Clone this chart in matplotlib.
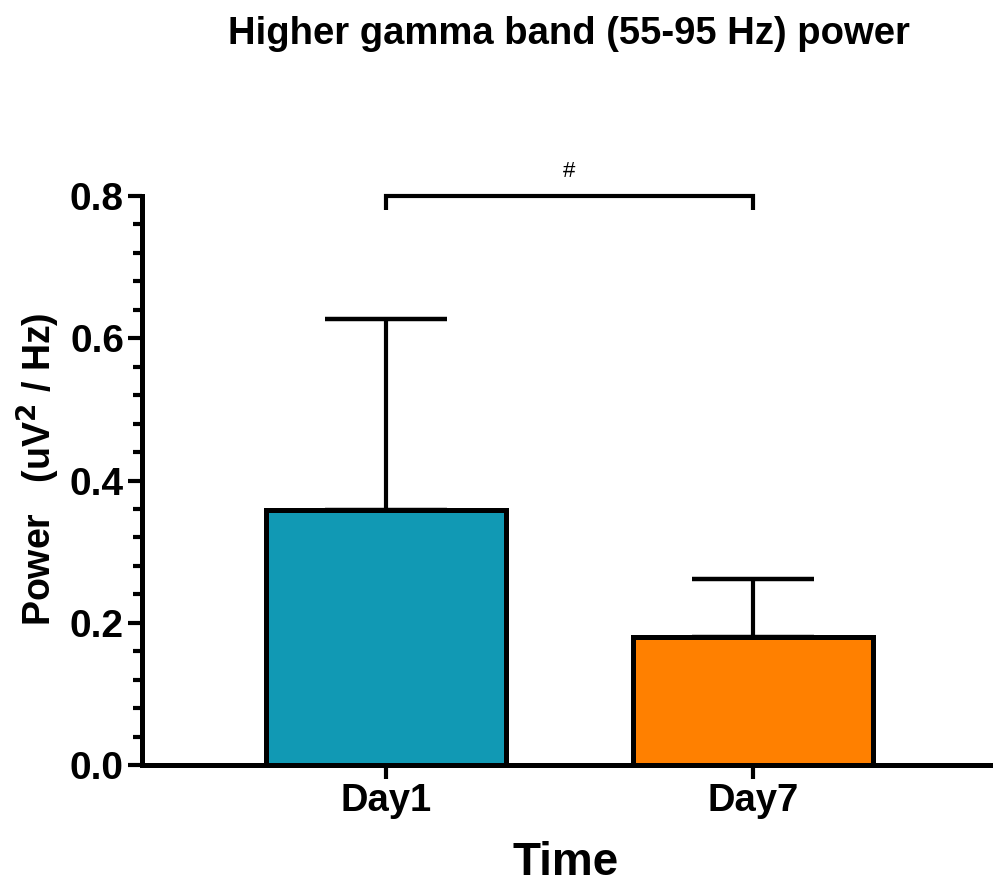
import matplotlib.pyplot as plt
from matplotlib.ticker import MultipleLocator

plt.rcParams['font.family'] = ['Liberation Sans', 'DejaVu Sans']

# Data
days = ['Day1', 'Day7']
power = [0.358, 0.180]
sd_upper = [0.269, 0.082]
bar_colors = ['#1199b4', '#ff8000']

fig = plt.figure(figsize=(9.93, 8.91), dpi=100)
ax = fig.add_axes([0.143, 0.1414, 0.854, 0.6386])

x = range(len(days))
ax.bar(x, power, width=0.654, color=bar_colors, edgecolor='black',
       linewidth=3.6, zorder=2)
ax.errorbar(x, power, yerr=[[0, 0], sd_upper], fmt='none', ecolor='black',
            elinewidth=3, capsize=44, capthick=3.2, zorder=1)

ax.set_xlim(-0.665, 1.646)
ax.set_ylim(0, 0.8)
ax.set_xticks(list(x))
ax.set_xticklabels(days, fontsize=27.5, fontweight='bold')
ax.yaxis.set_major_locator(MultipleLocator(0.2))
ax.yaxis.set_minor_locator(MultipleLocator(0.04))
ax.set_yticks([0.0, 0.2, 0.4, 0.6, 0.8])
ax.set_yticklabels(['0.0', '0.2', '0.4', '0.6', '0.8'], fontsize=28, fontweight='bold')

for side in ['top', 'right']:
    ax.spines[side].set_visible(False)
for side in ['left', 'bottom']:
    ax.spines[side].set_linewidth(3.6)
ax.tick_params(axis='both', which='major', width=3, length=10, pad=3)
ax.tick_params(axis='y', which='minor', width=3, length=6.5)

ax.set_ylabel('Power   (uV$^\\mathbf{2}$ / Hz)', fontsize=27, fontweight='bold')
ax.yaxis.set_label_coords(-0.094, 0.52)
ax.set_xlabel('Time', fontsize=33, fontweight='bold', labelpad=16)

# significance bracket
ax.plot([0, 0, 1, 1], [0.78, 0.8, 0.8, 0.78], color='black', linewidth=3,
        clip_on=False, solid_capstyle='butt', solid_joinstyle='miter')
ax.text(0.5, 0.82, '#', ha='center', va='bottom', fontsize=16)

fig.text(0.573, 0.962, 'Higher gamma band (55-95 Hz) power', ha='center', va='center',
         fontsize=27.5, fontweight='bold')

fig.savefig('out.png', dpi=100)
